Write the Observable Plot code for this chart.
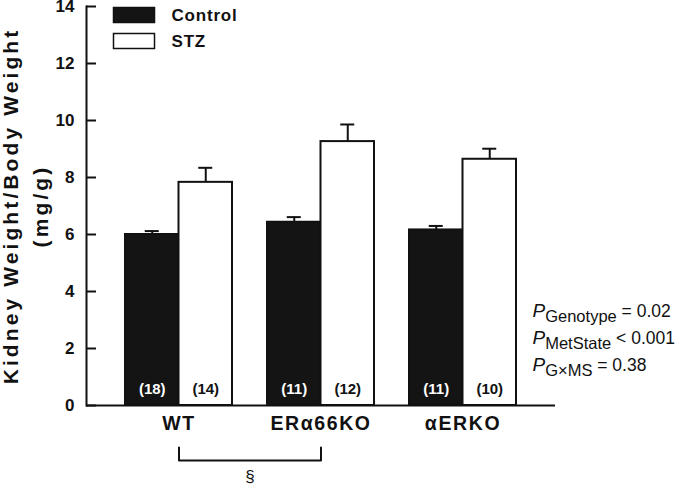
<!DOCTYPE html>
<html>
<head>
<meta charset="utf-8">
<script src="https://cdn.jsdelivr.net/npm/d3@7"></script>
<script src="https://cdn.jsdelivr.net/npm/@observablehq/plot@0.6"></script>
<style>
  html, body { margin: 0; padding: 0; background: #fff; }
  #chart svg { display: block; }
  g[aria-label="x-axis tick label"] text { letter-spacing: 1.6px; }
</style>
</head>
<body>
<div id="chart"></div>
<script>
// ---- data ----
const genotypes = ["WT", "ERα66KO", "αERKO"];
const controlMean = [6.0, 6.43, 6.16];
const controlSE = [0.12, 0.18, 0.14];
const stzMean = [7.83, 9.26, 8.64];
const stzSE = [0.51, 0.60, 0.37];
const controlN = [18, 11, 11];
const stzN = [14, 12, 10];
const yTicks = [0, 2, 4, 6, 8, 10, 12, 14];
const seriesNames = ["Control", "STZ"];
const pSubs = ["Genotype", "MetState", "G×MS"];
const pVals = ["= 0.02", "< 0.001", "= 0.38"];
const yLabelLines = ["Kidney Weight/Body Weight", "(mg/g)"];
const sigMark = "§";

const control = genotypes.map((g, i) => ({g, mean: controlMean[i], se: controlSE[i], n: `(${controlN[i]})`}));
const stz = genotypes.map((g, i) => ({g, mean: stzMean[i], se: stzSE[i], n: `(${stzN[i]})`}));

const FONT = "'Liberation Sans', Arial, Helvetica, sans-serif";
const HALF = 26.75; // half of a bar within a genotype band (layout)
const DARK = "#141414";

const bracket = [
  {g: genotypes[0], v: -1.47}, {g: genotypes[0], v: -1.93},
  {g: genotypes[1], v: -1.93}, {g: genotypes[1], v: -1.47}
];

const pMarks = pSubs.map((s, i) => Plot.text([s], {
  frameAnchor: "bottom-right", dx: -23, dy: -94 + 27 * i,
  textAnchor: "start", lineAnchor: "middle", fontSize: 17, fill: "#111"
}));

const chart = Plot.plot({
  width: 677,
  height: 486,
  marginLeft: 86,
  marginRight: 122,
  marginTop: 6,
  marginBottom: 81,
  style: {fontFamily: FONT, background: "#fff", color: "#111", overflow: "visible"},
  x: {domain: genotypes, paddingInner: 0.2465, paddingOuter: 0.2746, label: null},
  y: {domain: [0, 14], label: null},
  marks: [
    // bars
    Plot.barY(control, {x: "g", y: "mean", fill: DARK, stroke: "#111", strokeWidth: 2, insetRight: 2 * HALF}),
    Plot.barY(stz, {x: "g", y: "mean", fill: "#fff", stroke: "#111", strokeWidth: 2, insetLeft: 2 * HALF}),
    // error bars (upper only)
    Plot.ruleX(control, {x: "g", y1: "mean", y2: d => d.mean + d.se, dx: -HALF, stroke: "#111", strokeWidth: 2}),
    Plot.ruleX(stz, {x: "g", y1: "mean", y2: d => d.mean + d.se, dx: HALF, stroke: "#111", strokeWidth: 2}),
    Plot.tickY(control, {x: "g", y: d => d.mean + d.se, insetLeft: HALF - 7, insetRight: 3 * HALF - 7, stroke: "#111", strokeWidth: 2}),
    Plot.tickY(stz, {x: "g", y: d => d.mean + d.se, insetLeft: 3 * HALF - 7, insetRight: HALF - 7, stroke: "#111", strokeWidth: 2}),
    // n labels
    Plot.text(control, {x: "g", text: "n", frameAnchor: "bottom", lineAnchor: "middle", dy: -16, dx: -HALF, fill: "#fff", fontSize: 15, fontWeight: "bold"}),
    Plot.text(stz, {x: "g", text: "n", frameAnchor: "bottom", lineAnchor: "middle", dy: -16, dx: HALF, fill: "#111", fontSize: 15, fontWeight: "bold"}),
    // axes
    Plot.axisY({ticks: yTicks, tickSize: 0, tickPadding: 12, fontSize: 17, fontWeight: "bold", label: null}),
    Plot.tickY(yTicks, {y: d => d, insetRight: 459, stroke: "#111", strokeWidth: 2}),
    Plot.frame({anchor: "left", stroke: "#111", strokeWidth: 2}),
    Plot.ruleY([0], {stroke: "#111", strokeWidth: 2}),
    Plot.axisX({tickSize: 0, tickPadding: 11, fontSize: 19.5, fontWeight: "bold", label: null}),
    // y label (two lines)
    Plot.text([yLabelLines[0]], {frameAnchor: "left", textAnchor: "middle", lineAnchor: "middle", dx: -75, dy: 0, rotate: -90, fontSize: 21, fontWeight: "bold", fill: "#111"}),
    Plot.text([yLabelLines[1]], {frameAnchor: "left", textAnchor: "middle", lineAnchor: "middle", dx: -45, dy: 0, rotate: -90, fontSize: 21, fontWeight: "bold", fill: "#111"}),
    // legend
    Plot.frame({fill: DARK, stroke: "#111", strokeWidth: 1.5, insetLeft: 27, insetRight: 401, insetTop: 1, insetBottom: 383}),
    Plot.frame({fill: "#fff", stroke: "#111", strokeWidth: 1.5, insetLeft: 27, insetRight: 401, insetTop: 27, insetBottom: 357}),
    Plot.text([seriesNames[0]], {x: () => genotypes[0], frameAnchor: "top", lineAnchor: "middle", dx: -7.5, dy: 9, textAnchor: "start", fontSize: 17, fontWeight: "bold", fill: "#111"}),
    Plot.text([seriesNames[1]], {x: () => genotypes[0], frameAnchor: "top", lineAnchor: "middle", dx: -7.5, dy: 35, textAnchor: "start", fontSize: 17, fontWeight: "bold", fill: "#111"}),
    // significance bracket
    Plot.line(bracket, {x: "g", y: "v", stroke: "#111", strokeWidth: 2}),
    Plot.text([sigMark], {x: () => genotypes[0], frameAnchor: "bottom", lineAnchor: "middle", dx: 71, dy: 71, fontSize: 17, fill: "#111"}),
    // p-values
    ...pMarks
  ]
});

// text styling details (letter spacing, rich P-value text)
d3.select(chart).selectAll("text").each(function() {
  const t = d3.select(this);
  const s = this.textContent;
  if (s === yLabelLines[0] || s === yLabelLines[1]) t.style("letter-spacing", "3.1px");
  if (seriesNames.includes(s)) t.style("letter-spacing", "0.8px");
  const i = pSubs.indexOf(s);
  if (i >= 0 && this.children.length === 0) {
    t.text(null);
    t.append("tspan").attr("font-style", "italic").attr("font-size", 19).text("P");
    t.append("tspan").attr("font-size", 16.5).attr("dy", 5).text(pSubs[i]);
    t.append("tspan").attr("font-size", 17.5).attr("dy", -5).text("\u00A0" + pVals[i]);
  }
});

document.getElementById("chart").append(chart);
</script>
</body>
</html>
